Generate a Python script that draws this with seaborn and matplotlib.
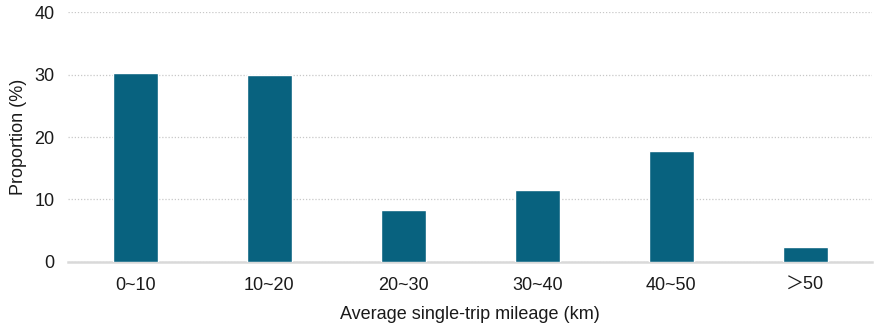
import matplotlib
matplotlib.use("Agg")
import matplotlib.pyplot as plt
import seaborn as sns
import pandas as pd

categories = ["0~10", "10~20", "20~30", "30~40", "40~50", "＞50"]
proportion = [30.3, 29.9, 8.3, 11.5, 17.8, 2.3]

BAR_COLOR = "#08627F"

sns.set_theme(style="white")
plt.rcParams['font.family'] = ['Liberation Sans', 'Noto Sans CJK SC', 'DejaVu Sans']

df = pd.DataFrame({"range": categories, "prop": proportion})

fig, ax = plt.subplots(figsize=(8.74, 3.27), dpi=100)
sns.barplot(data=df, x="range", y="prop", color=BAR_COLOR, width=0.335,
            saturation=1, ax=ax, zorder=3)

ax.set_ylim(0, 40)
ax.set_yticks([0, 10, 20, 30, 40])
ax.set_xlim(-0.5, len(categories) - 0.5)
ax.yaxis.grid(True, linestyle=(0, (1, 1.5)), color="#C8C8C8", linewidth=0.9, zorder=0)
for s in ["top", "right", "left"]:
    ax.spines[s].set_visible(False)
ax.spines["bottom"].set_color("#D9D9D9")
ax.spines["bottom"].set_linewidth(1.8)
ax.tick_params(axis="y", length=0, labelsize=13, colors="#1a1a1a", pad=10)
ax.tick_params(axis="x", length=0, labelsize=13, colors="#1a1a1a", pad=11)
ax.set_xlabel("Average single-trip mileage (km)", fontsize=13, color="#1a1a1a", labelpad=9)
ax.set_ylabel("Proportion (%)", fontsize=13, color="#1a1a1a", labelpad=5)

fig.subplots_adjust(left=0.078, right=0.998, top=0.962, bottom=0.2)
fig.savefig("out.png", dpi=100)
